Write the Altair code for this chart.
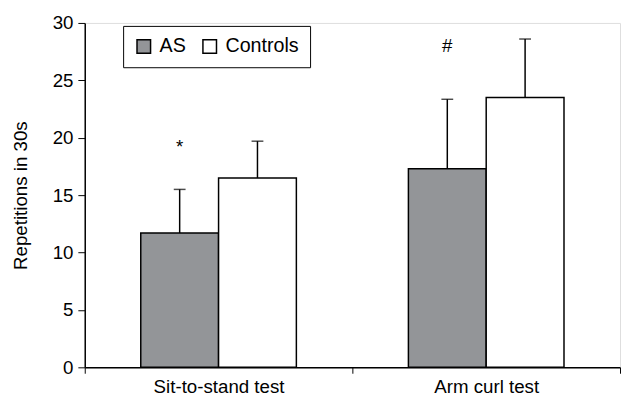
import altair as alt
import pandas as pd

tests = ["Sit-to-stand test", "Arm curl test"]
groups = ["AS", "Controls"]
as_mean = [11.7, 17.3]
as_sd = [3.8, 6.05]
ctrl_mean = [16.5, 23.5]
ctrl_sd = [3.2, 5.1]
marks = ["*", "#"]
mark_y = [19.2, 28.0]
colors = ["#939598", "#ffffff"]

rows = []
for i, t in enumerate(tests):
    rows.append({"test": t, "group": "AS", "mean": as_mean[i], "upper": as_mean[i] + as_sd[i]})
    rows.append({"test": t, "group": "Controls", "mean": ctrl_mean[i], "upper": ctrl_mean[i] + ctrl_sd[i]})
df = pd.DataFrame(rows)
ann = pd.DataFrame({"test": tests, "group": ["AS", "AS"], "label": marks, "y": mark_y})

FONT = "Liberation Sans"

x = alt.X("test:N", sort=tests, title=None,
          scale=alt.Scale(paddingInner=0, paddingOuter=0),
          axis=alt.Axis(labelAngle=0, labelFontSize=19, labelColor="black", labelFont=FONT,
                        tickBand="extent", tickSize=6, tickColor="black", tickWidth=1,
                        domainColor="black", domainWidth=1.5, labelPadding=5))
xo = alt.XOffset("group:N", scale=alt.Scale(domain=groups, paddingInner=0, paddingOuter=0.72))
y_scale = alt.Scale(domain=[0, 30], nice=False)

bars = alt.Chart(df).mark_bar(stroke="black", strokeWidth=1.5).encode(
    x=x, xOffset=xo,
    y=alt.Y("mean:Q", scale=y_scale, title="Repetitions in 30s",
            axis=alt.Axis(values=[0, 5, 10, 15, 20, 25, 30], grid=False, tickSize=7,
                          tickColor="black", tickWidth=1, domainColor="black", domainWidth=1.5,
                          labelFontSize=19, labelColor="black", labelFont=FONT, labelPadding=5,
                          titleFontSize=19, titleFont=FONT, titleColor="black",
                          titleFontWeight="normal", titlePadding=22)),
    fill=alt.Fill("group:N", scale=alt.Scale(domain=groups, range=colors),
                  legend=alt.Legend(title=None, orient="none", legendX=39, legendY=3,
                                    direction="horizontal", strokeColor="black",
                                    padding=11, symbolType="square", symbolSize=190,
                                    symbolStrokeColor="black", symbolStrokeWidth=1.5,
                                    labelFontSize=20, labelFont=FONT, labelColor="black",
                                    columnPadding=14, labelOffset=6)),
)

rules = alt.Chart(df).mark_rule(color="black", strokeWidth=1.5).encode(
    x=x, xOffset=xo, y=alt.Y("mean:Q", scale=y_scale), y2="upper:Q")
caps = alt.Chart(df).mark_tick(color="black", thickness=1.5, size=12).encode(
    x=x, xOffset=xo, y=alt.Y("upper:Q", scale=y_scale))
texts = alt.Chart(ann).mark_text(fontSize=19, font=FONT, color="black", baseline="middle").encode(
    x=x, xOffset=xo, y=alt.Y("y:Q", scale=y_scale), text="label:N")

chart = alt.layer(bars, rules, caps, texts).properties(
    width=544, height=350,
    padding={"left": 3, "top": 3, "right": 0, "bottom": 0},
).configure_view(stroke=None).configure(background="white")

chart.save("out.html", embed_options={"renderer": "svg", "actions": False})
